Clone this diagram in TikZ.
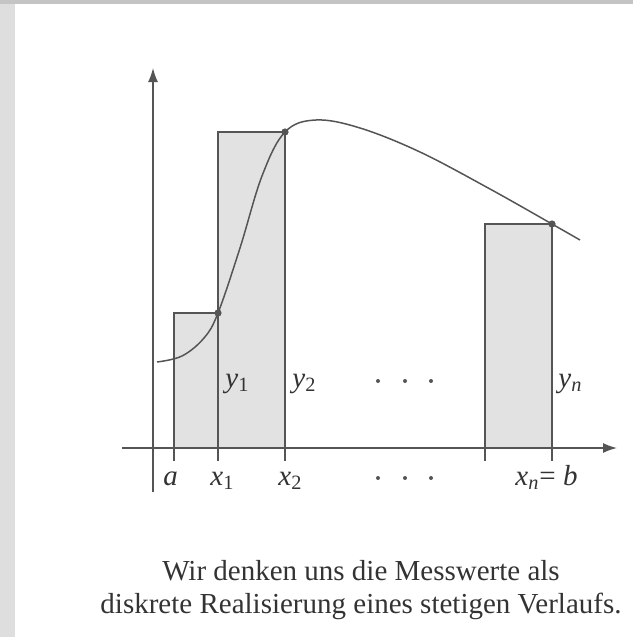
\documentclass[tikz,border=0pt]{standalone}
\usepackage{fontspec}
\setmainfont{Liberation Serif}
\usetikzlibrary{arrows.meta,positioning}
\definecolor{axisgray}{HTML}{555555}
\definecolor{barfill}{HTML}{E2E2E2}
\definecolor{scantop}{HTML}{C4C4C4}
\definecolor{scanside}{HTML}{DEDEDE}
\newcommand{\lbl}[2]{\textit{#1}\textsubscript{#2}}

\begin{document}
\begin{tikzpicture}[x=0.5pt,y=-0.5pt,
  axis/.style={draw=axisgray, line width=0.75pt, -{Latex[length=7pt,width=5pt]}},
  bar/.style={draw=axisgray, fill=barfill, line width=0.6pt},
  tck/.style={draw=axisgray, line width=0.6pt},
  dot/.style={circle, fill=axisgray, inner sep=0, minimum size=3.6pt},
  lab/.style={font=\fontsize{14.5}{16.5}\selectfont, text=black!80, inner sep=0},
]
\useasboundingbox (0,0) rectangle (633,637);
% scan edges
\fill[scanside] (0,0) rectangle (15,637);
\fill[scantop] (0,0) rectangle (633,4);

% bars
\draw[bar] (174,448) rectangle (218,313);
\draw[bar] (218,448) rectangle (285,132);
\draw[bar] (485,448) rectangle (552,224);

% axes
\coordinate (xs) at (122,448);
\coordinate (xe) at (617,448);
\coordinate (ys) at (153,492);
\coordinate (ye) at (153,68);
\draw[axis] (xs) -- (xe);
\draw[axis] (ys) -- (ye);
\foreach \t in {174,218,285,485,552}
  \draw[tck] (\t,448) -- (\t,461);

% curve
\draw[axisgray, line width=0.75pt] plot[smooth, tension=0.6] coordinates
  {(157,362) (182,356) (204,338) (218,313) (240,248) (262,176) (285,132)
   (316,120) (360,128) (420,152) (490,189) (552,224) (580,240)};
\node[dot] (p1) at (218,313) {};
\node[dot] (p2) at (285,132) {};
\node[dot] (pn) at (552,224) {};

% labels
\node[lab, anchor=base west] (y1) at (225,387) {\lbl{y}{1}};
\node[lab, anchor=base west] (y2) at (292,387) {\lbl{y}{2}};
\node[lab, anchor=base west] (yn) at (558,387) {\lbl{y}{\textit{n}}};
\foreach \d in {378,405,431} {
  \fill[axisgray] (\d,381) circle (1pt);
  \fill[axisgray] (\d,478) circle (1pt);
}
\node[lab, anchor=base west] (a) at (163,485) {\textit{a}};
\node[lab, anchor=base west] (x1) at (210,485) {\lbl{x}{1}};
\node[lab, anchor=base west] (x2) at (278,485) {\lbl{x}{2}};
\node[lab, anchor=base west] (xn) at (515,485) {\lbl{x}{\textit{n}}= \textit{b}};

% caption
\node[lab, align=center] (cap) at (361,590)
  {Wir denken uns die Messwerte als\\diskrete Realisierung eines stetigen Verlaufs.};
\end{tikzpicture}
\end{document}
